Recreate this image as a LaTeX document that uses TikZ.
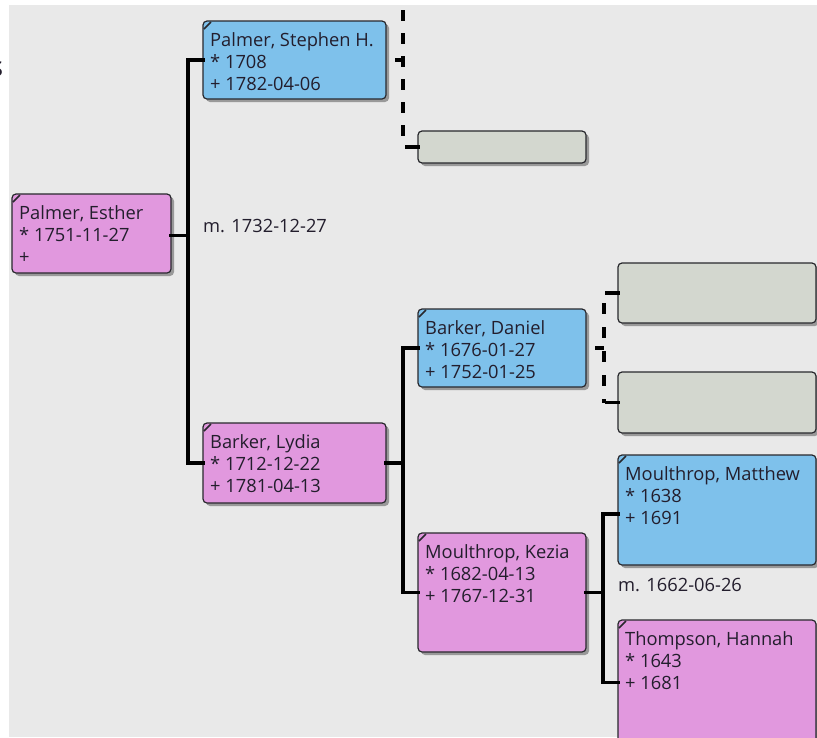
\documentclass[tikz,border=0pt]{standalone}
\usepackage{fontspec}
\setmainfont{Open Sans}
\definecolor{bg}{RGB}{233,233,233}
\definecolor{male}{RGB}{126,193,235}
\definecolor{female}{RGB}{225,152,222}
\definecolor{unk}{RGB}{211,215,207}
\definecolor{edge}{RGB}{40,40,45}
\definecolor{ink}{RGB}{35,30,45}
\tikzset{
  box/.style={draw=edge, line width=1.2pt, rounded corners=4pt, anchor=north west, inner sep=0pt, outer sep=0pt},
  shade/.style={fill=black!40, rounded corners=4pt, draw=none},
  txt/.style={anchor=north west, align=left, inner sep=0pt, text=ink, font=\fontsize{18.3}{22}\selectfont},
  conn/.style={line width=3.2pt, black, line cap=rect},
  dconn/.style={line width=3.2pt, black, dash pattern=on 11pt off 12pt},
  mlabel/.style={anchor=west, inner sep=0pt, text=ink, font=\fontsize{18.3}{22}\selectfont}
}
\newcommand\pbox[6]{%
  \fill[shade] (#2+3,#3+3) rectangle ++(#4,#5);
  \node[box, fill=#6, minimum width=#4, minimum height=#5] (#1) at (#2,#3) {};
}
\newcommand\pmark[1]{%
  \draw[edge, line width=1.6pt] ([shift={(1,8)}]#1.north west) -- ([shift={(8,1)}]#1.north west);
}
\begin{document}
\begin{tikzpicture}[x=1pt,y=-1pt]
\useasboundingbox (0,0) rectangle (817,737);
\fill[white] (0,0) rectangle (817,737);
\node[anchor=base east, inner sep=0pt, font=\fontsize{28}{30}\selectfont, text=ink] (stub) at (3.5,76) {s};
\begin{scope}
\clip (9,5) rectangle (817,737);
\fill[bg] (9,5) rectangle (817,737);

% boxes
\pbox{esther}{12}{194}{159}{79}{female}
\pbox{stephen}{203}{21}{183}{78}{male}
\pbox{lydia}{203}{423}{183}{80}{female}
\pbox{daniel}{418}{309}{168}{78}{male}
\pbox{kezia}{418}{533}{168}{119}{female}
\pbox{u1}{418}{131}{168}{32}{unk}
\pbox{u2}{618}{263}{198}{60}{unk}
\pbox{u3}{618}{372}{198}{61}{unk}
\pbox{matthew}{618}{455}{198}{110}{male}
\pbox{hannah}{618}{620}{198}{125}{female}

\pmark{esther}\pmark{stephen}\pmark{lydia}\pmark{daniel}\pmark{kezia}\pmark{matthew}\pmark{hannah}

% texts
\node[txt] (esther-t) at ([shift={(7,11)}]esther.north west) {Palmer, Esther\\* 1751-11-27\\+};
\node[txt] (stephen-t) at ([shift={(7,11)}]stephen.north west) {Palmer, Stephen H.\\* 1708\\+ 1782-04-06};
\node[txt] (lydia-t) at ([shift={(7,11)}]lydia.north west) {Barker, Lydia\\* 1712-12-22\\+ 1781-04-13};
\node[txt] (daniel-t) at ([shift={(7,11)}]daniel.north west) {Barker, Daniel\\* 1676-01-27\\+ 1752-01-25};
\node[txt] (kezia-t) at ([shift={(7,11)}]kezia.north west) {Moulthrop, Kezia\\* 1682-04-13\\+ 1767-12-31};
\node[txt] (matthew-t) at ([shift={(7,11)}]matthew.north west) {Moulthrop, Matthew\\* 1638\\+ 1691};
\node[txt] (hannah-t) at ([shift={(7,11)}]hannah.north west) {Thompson, Hannah\\* 1643\\+ 1681};

\node[mlabel] (m1) at (203,226) {m. 1732-12-27};
\node[mlabel] (m2) at (618,585) {m. 1662-06-26};

% connectors
\coordinate (e1) at ([yshift=-2pt]esther.east);
\coordinate (j1) at ([xshift=17pt]e1);
\coordinate (j2) at (403,-13);
\coordinate (j3) at ([xshift=18]daniel.east);
\coordinate (j4) at ([xshift=17]lydia.east);
\coordinate (j5) at ([xshift=17]kezia.east);

\draw[conn] (e1) -- (j1);
\draw[conn] (stephen.west) -| (j1) |- (lydia.west);
\draw[dconn, dash pattern=on 8pt off 20pt] (stephen.east -| j2) -- (stephen.east);
\draw[dconn] (j2) -- (j2 |- u1.west);
\draw[conn] ([xshift=-11]u1.west) -- (u1.west);
\draw[conn] (lydia.east) -- (j4);
\draw[conn] (daniel.west) -| (j4) |- (kezia.west);
\draw[dconn, dash pattern=on 9pt off 20pt] (j3) -- (daniel.east);
\draw[dconn, dash pattern=on 11pt off 13pt, dash phase=-10pt] (j3 |- u2.west) -- (j3 |- u3.west);
\draw[conn] ([xshift=-11]u2.west) -- (u2.west);
\draw[conn] ([xshift=-11]u3.west) -- (u3.west);
\draw[conn] (kezia.east) -- (j5);
\draw[conn] ([yshift=-4]matthew.west) -| (j5) |- (hannah.west);
\end{scope}
\end{tikzpicture}
\end{document}
